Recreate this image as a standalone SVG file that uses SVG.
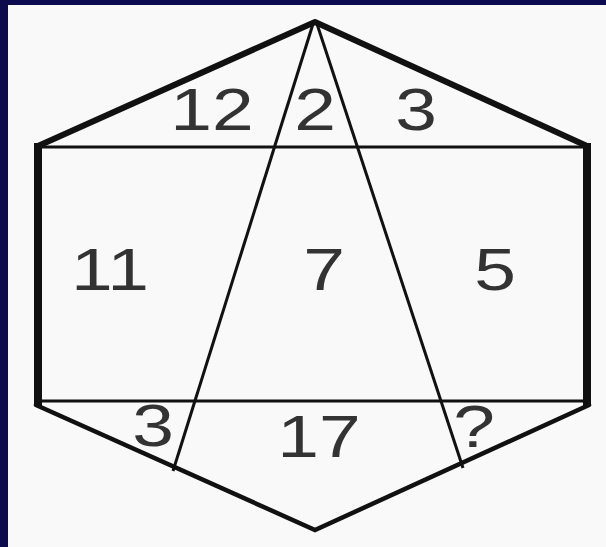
<svg xmlns="http://www.w3.org/2000/svg" width="606" height="547" viewBox="0 0 606 547">
  <style>
    .thick { stroke: #111; stroke-width: 6; fill: none; stroke-linejoin: round; stroke-linecap: round; }
    .side { stroke: #111; stroke-width: 8; fill: none; }
    .low { stroke: #111; stroke-width: 4.5; fill: none; stroke-linecap: round; }
    .thin { stroke: #111; stroke-width: 3; fill: none; }
    .num { font-family: "Liberation Sans", Arial, sans-serif; font-size: 60px; fill: #333; text-anchor: middle; }
  </style>
  <rect x="0" y="0" width="606" height="547" fill="#0b0b4d"/>
  <rect x="8" y="5" width="598" height="542" fill="#f9f9f9"/>
  <g id="figure">
    <polyline class="thick" points="38,146 315,22 587,146"/>
    <line class="side" x1="38" y1="143" x2="38" y2="406"/>
    <line class="side" x1="587" y1="143" x2="587" y2="406"/>
    <polyline class="low" points="36,405 315,530 589,405"/>
    <line class="thin" x1="38" y1="147" x2="587" y2="147"/>
    <line class="thin" x1="38" y1="401" x2="587" y2="401"/>
  </g>
  <g id="connectors">
    <line class="thin" x1="313" y1="24" x2="173" y2="471"/>
    <line class="thin" x1="317" y1="24" x2="463" y2="468"/>
  </g>
  <g id="labels">
    <text class="num" transform="translate(212,130) scale(1.25,1)">12</text>
    <text class="num" transform="translate(315,130) scale(1.25,1)">2</text>
    <text class="num" transform="translate(416,130) scale(1.25,1)">3</text>
    <text class="num" transform="translate(110,290) scale(1.25,1)">11</text>
    <text class="num" transform="translate(324,290) scale(1.25,1)">7</text>
    <text class="num" transform="translate(495,290) scale(1.25,1)">5</text>
    <text class="num" transform="translate(153,446) scale(1.25,1)">3</text>
    <text class="num" transform="translate(319,457) scale(1.25,1)">17</text>
    <text class="num" transform="translate(474,447) scale(1.25,1)">?</text>
  </g>
</svg>
